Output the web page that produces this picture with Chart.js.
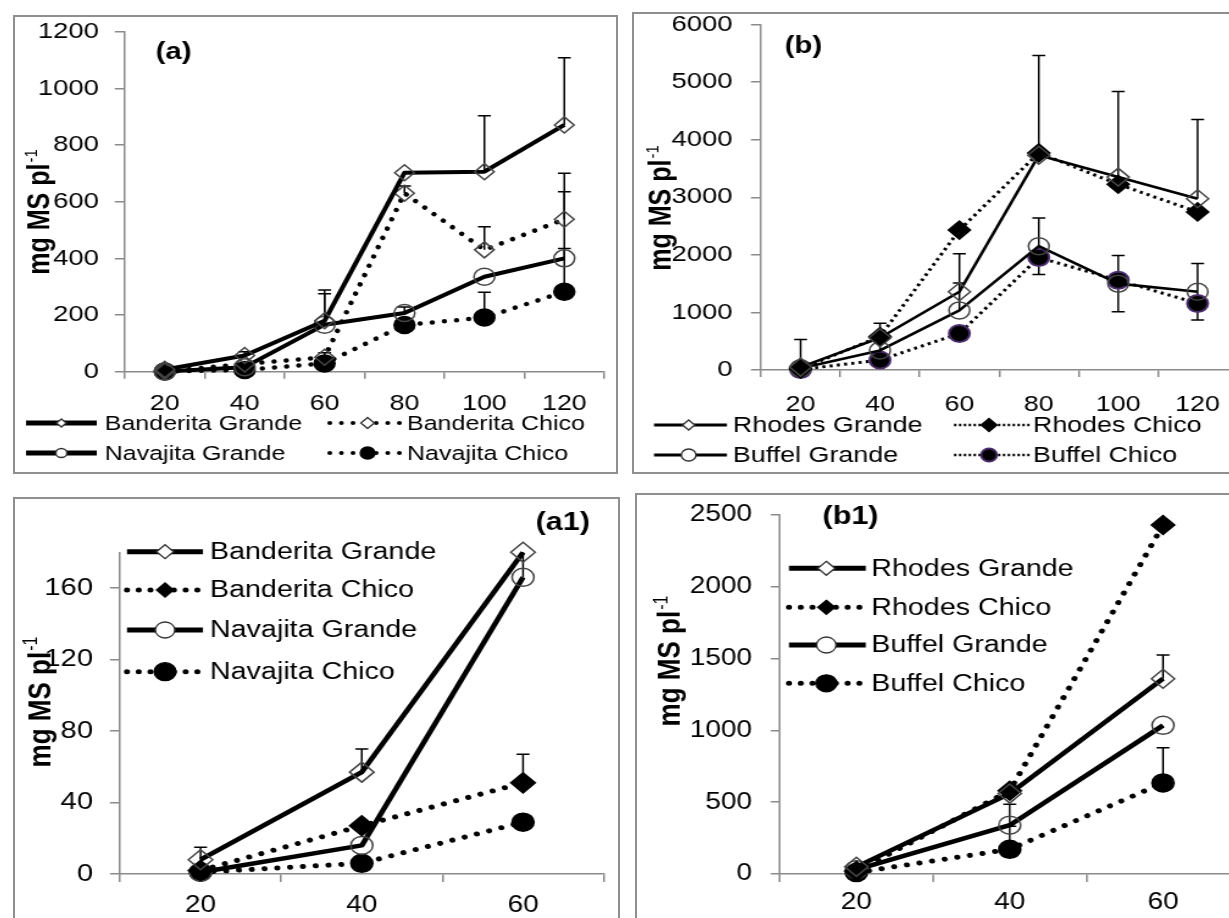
<!DOCTYPE html>
<html>
<head>
<meta charset="utf-8">
<script src="https://cdn.jsdelivr.net/npm/chart.js@4.4.1/dist/chart.umd.min.js"></script>
<style>
  html, body { margin: 0; padding: 0; background: #fff; }
  body { width: 1229px; height: 918px; overflow: hidden; position: relative; }
  .panel { position: absolute; border: 2px solid #8f8f8f; overflow: hidden; background: #fff; }
  .panel canvas { position: absolute; left: 0; top: 0; transform-origin: 0 0; transform: scaleX(1.22); }
</style>
</head>
<body>
<div class="panel" style="left:13px;top:15px;width:601px;height:455px"><canvas id="chartA" width="493" height="455"></canvas></div>
<div class="panel" style="left:632px;top:12px;width:616px;height:458px"><canvas id="chartB" width="505" height="458"></canvas></div>
<div class="panel" style="left:13px;top:497px;width:603px;height:436px"><canvas id="chartA1" width="494" height="436"></canvas></div>
<div class="panel" style="left:635px;top:493px;width:616px;height:436px"><canvas id="chartB1" width="505" height="436"></canvas></div>

<script>
// ---------- categories (days after emergence) ----------
const daysLong  = ['20', '40', '60', '80', '100', '120'];
const daysShort = ['20', '40', '60'];

// ---------- y-axis ranges: [min, max, step] ----------
const yRangeA  = [0, 1200, 200];
const yRangeB  = [0, 6000, 1000];
const yRangeA1 = [0, 180, 40];
const yRangeB1 = [0, 2500, 500];

// ---------- Banderita / Navajita (mg MS per plant) ----------
const banderitaGrande = [8, 57, 180, 702, 706, 871];
const banderitaChico  = [2, 27, 51, 630, 430, 538];
const navajitaGrande  = [1, 16, 166, 207, 335, 400];
const navajitaChico   = [1, 6, 29, 165, 191, 282];

const banderitaGrandeErr = [7, 13, 108, 0, 197, 237];
const banderitaChicoErr  = [0, 0, 16, 25, 82, 162];
const navajitaGrandeErr  = [0, 0, 109, 21, 0, 235];
const navajitaChicoErr   = [0, 0, 0, 0, 89, 153];

// ---------- Rhodes / Buffel (mg MS per plant) ----------
const rhodesGrande = [50, 560, 1360, 3730, 3350, 2975];
const rhodesChico  = [20, 580, 2430, 3770, 3225, 2745];
const buffelGrande = [30, 340, 1035, 2150, 1500, 1360];
const buffelChico  = [10, 172, 634, 1953, 1560, 1156];

const rhodesGrandeErr    = [480, 250, 150, 1730, 1485, 1375];
const buffelGrandeErr    = [0, 146, 985, 490, 490, 490];
const buffelGrandeErrLow = [0, 0, 0, 490, 490, 490];

// ---------- first three harvests ----------
const banderitaGrandeEarly = banderitaGrande.slice(0, 3);
const banderitaChicoEarly  = banderitaChico.slice(0, 3);
const navajitaGrandeEarly  = navajitaGrande.slice(0, 3);
const navajitaChicoEarly   = navajitaChico.slice(0, 3);
const rhodesGrandeEarly    = rhodesGrande.slice(0, 3);
const rhodesChicoEarly     = rhodesChico.slice(0, 3);
const buffelGrandeEarly    = buffelGrande.slice(0, 3);
const buffelChicoEarly     = buffelChico.slice(0, 3);

const banderitaGrandeErrEarly = [7, 13, 0];
const banderitaChicoErrEarly  = [0, 0, 16];
const navajitaGrandeErrEarly  = [0, 0, 109];
const rhodesGrandeErrEarly    = [0, 0, 165];
const buffelGrandeErrEarly    = [0, 146, 0];
const buffelChicoErrEarly     = [0, 160, 245];

// ---------- shared drawing helpers ----------
const FAMILY = "'Liberation Sans', Arial, sans-serif";
const AXIS = '#8a8a8a';
Chart.defaults.font.family = FAMILY;
Chart.defaults.color = '#000';

function drawMarker(ctx, shape, x, y, r, fill, stroke, lw) {
  ctx.beginPath();
  if (shape === 'circle') {
    ctx.arc(x, y, r, 0, Math.PI * 2);
  } else {
    ctx.moveTo(x, y - r); ctx.lineTo(x + r, y); ctx.lineTo(x, y + r); ctx.lineTo(x - r, y); ctx.closePath();
  }
  ctx.fillStyle = fill; ctx.fill();
  ctx.setLineDash([]);
  ctx.lineWidth = lw; ctx.strokeStyle = stroke; ctx.stroke();
}

function drawYTitle(ctx, t) {
  ctx.save();
  ctx.translate(t.x, t.y);
  ctx.rotate(-Math.PI / 2);
  const main = 'mg MS pl', sup = '-1';
  const supSize = Math.round(t.size * 0.6);
  ctx.font = `bold ${t.size}px ${FAMILY}`;
  const w1 = ctx.measureText(main).width;
  ctx.font = `${supSize}px ${FAMILY}`;
  const w2 = ctx.measureText(sup).width;
  const x0 = -(w1 + w2 + 1) / 2;
  const base = t.size * 0.33;
  ctx.fillStyle = '#000';
  ctx.textBaseline = 'alphabetic';
  ctx.textAlign = 'left';
  ctx.font = `bold ${t.size}px ${FAMILY}`;
  ctx.fillText(main, x0, base);
  ctx.font = `${supSize}px ${FAMILY}`;
  ctx.fillText(sup, x0 + w1 + 1, base - t.size * 0.4);
  ctx.restore();
}

function buildPanel(spec) {
  const datasets = spec.series.map(s => ({
    label: s.label,
    data: s.data,
    errUp: s.err || null,
    errLow: s.errLow || null,
    borderColor: '#000',
    borderWidth: s.solid ? spec.solidW : spec.dotW,
    borderDash: s.solid ? [] : spec.dash,
    borderCapStyle: s.solid ? 'butt' : spec.dashCap,
    borderJoinStyle: 'round',
    tension: 0,
    fill: false,
    clip: false,
    pointStyle: s.shape,
    pointRadius: s.shape === 'circle' ? spec.circleR : spec.diamondR,
    pointHoverRadius: 0,
    pointBackgroundColor: s.filled ? '#000' : 'rgba(0,0,0,0)',
    pointBorderColor: s.rim || (s.filled ? '#000' : '#444'),
    pointBorderWidth: s.rim ? 2 : 1.5
  }));

  const errorBars = {
    id: 'errorBars',
    beforeDatasetsDraw(chart) {
      const { ctx, chartArea: ca } = chart;
      const y = chart.scales.y;
      ctx.save();
      ctx.beginPath();
      ctx.rect(ca.left - 20, ca.top, ca.right - ca.left + 40, ca.bottom - ca.top);
      ctx.clip();
      ctx.strokeStyle = '#000';
      ctx.lineWidth = 1.5;
      ctx.setLineDash([]);
      chart.data.datasets.forEach((ds, i) => {
        const meta = chart.getDatasetMeta(i);
        ds.data.forEach((v, j) => {
          const x = meta.data[j].x;
          const parts = [[ds.errUp ? ds.errUp[j] : 0, 1], [ds.errLow ? ds.errLow[j] : 0, -1]];
          parts.forEach(([e, sgn]) => {
            if (!e) return;
            const y0 = y.getPixelForValue(v);
            const y1 = y.getPixelForValue(v + sgn * e);
            ctx.beginPath();
            ctx.moveTo(x, y0); ctx.lineTo(x, y1);
            ctx.moveTo(x - spec.cap, y1); ctx.lineTo(x + spec.cap, y1);
            ctx.stroke();
          });
        });
      });
      ctx.restore();
    }
  };

  const decorations = {
    id: 'decorations',
    afterDraw(chart) {
      const ctx = chart.ctx;
      // panel tag
      ctx.save();
      ctx.font = `bold ${spec.tag.size}px ${FAMILY}`;
      ctx.textAlign = 'center';
      ctx.textBaseline = 'middle';
      ctx.fillStyle = '#000';
      ctx.fillText(spec.tag.text, spec.tag.x, spec.tag.y);
      ctx.restore();
      // y-axis title
      drawYTitle(ctx, spec.yTitle);
      // legend
      const L = spec.legend;
      spec.series.forEach((s, i) => {
        const col = L.cols[L.place[i][0]];
        const yy = L.rows[L.place[i][1]];
        ctx.save();
        ctx.strokeStyle = '#000';
        ctx.lineWidth = s.solid ? L.solidW : L.dotW;
        ctx.setLineDash(s.solid ? [] : L.dash);
        ctx.lineCap = s.solid ? 'butt' : L.cap;
        ctx.beginPath();
        ctx.moveTo(col.x0, yy); ctx.lineTo(col.x1, yy);
        ctx.stroke();
        drawMarker(ctx, s.shape, col.mx, yy, L.radii[i], s.filled ? '#000' : '#fff',
                   s.rim || (s.filled ? '#000' : '#333'), s.rim ? 1.8 : 1.3);
        ctx.font = `${L.font}px ${FAMILY}`;
        ctx.textAlign = 'left';
        ctx.textBaseline = 'middle';
        ctx.fillStyle = '#000';
        ctx.fillText(s.label, col.tx, yy + 1);
        ctx.restore();
      });
    }
  };

  return new Chart(document.getElementById(spec.canvas), {
    type: 'line',
    data: { labels: spec.labels, datasets },
    options: {
      responsive: false,
      animation: false,
      devicePixelRatio: 1,
      events: [],
      layout: { padding: { left: 0, top: spec.padTop, right: spec.padRight, bottom: 0 } },
      plugins: { legend: { display: false }, tooltip: { enabled: false } },
      scales: {
        x: {
          type: 'category',
          offset: true,
          grid: { display: true, offset: true, drawOnChartArea: false, drawTicks: true,
                  tickLength: spec.xTickLen, color: AXIS, lineWidth: 1.5 },
          border: { display: true, color: AXIS, width: 1.5 },
          ticks: { font: { size: spec.xFont }, color: '#000', padding: spec.xTickPad,
                   maxRotation: 0, autoSkip: false },
          afterFit(s) { s.height = spec.xHeight; s.paddingLeft = 0; s.paddingRight = 0; }
        },
        y: {
          type: 'linear',
          min: spec.yRange[0],
          max: spec.yRange[1],
          grid: { drawOnChartArea: false, drawTicks: true, tickLength: spec.yTickLen,
                  color: AXIS, lineWidth: 1.5 },
          border: { display: true, color: AXIS, width: 1.5 },
          ticks: { stepSize: spec.yRange[2], includeBounds: false, font: { size: spec.yFont },
                   color: '#000', padding: spec.yTickPad, callback: v => String(v) },
          afterFit(s) { s.width = spec.yWidth; s.paddingTop = 0; s.paddingBottom = 0; }
        }
      }
    },
    plugins: [errorBars, decorations]
  });
}

// ---------- (a) Banderita / Navajita, full season ----------
buildPanel({
  canvas: 'chartA', labels: daysLong, yRange: yRangeA,
  series: [
    { label: 'Banderita Grande', data: banderitaGrande, err: banderitaGrandeErr, solid: true,  shape: 'rectRot', filled: false },
    { label: 'Banderita Chico',  data: banderitaChico,  err: banderitaChicoErr,  solid: false, shape: 'rectRot', filled: false },
    { label: 'Navajita Grande',  data: navajitaGrande,  err: navajitaGrandeErr,  solid: true,  shape: 'circle',  filled: false },
    { label: 'Navajita Chico',   data: navajitaChico,   err: navajitaChicoErr,   solid: false, shape: 'circle',  filled: true }
  ],
  solidW: 4, dotW: 4.5, dash: [0.01, 10], dashCap: 'round',
  diamondR: 8, circleR: 8.5, cap: 5.3,
  padTop: 14.7, padRight: 0, yWidth: 90, xHeight: 100.3,
  yFont: 22.5, yTickLen: 8.2, yTickPad: 13,
  xFont: 22, xTickLen: 7, xTickPad: 12,
  tag: { text: '(a)', x: 130, y: 35.5, size: 24 },
  yTitle: { x: 19.3, y: 195, size: 25 },
  legend: {
    cols: [{ x0: 9, x1: 67, mx: 38, tx: 73.5 }, { x0: 258, x1: 318, mx: 289, tx: 321.3 }],
    rows: [406, 436],
    place: [[0, 0], [1, 0], [0, 1], [1, 1]],
    radii: [4, 5.5, 4.5, 6],
    font: 20.5, solidW: 5, dotW: 4, dash: [0.01, 9.5], cap: 'round'
  }
});

// ---------- (b) Rhodes / Buffel, full season ----------
buildPanel({
  canvas: 'chartB', labels: daysLong, yRange: yRangeB,
  series: [
    { label: 'Rhodes Grande', data: rhodesGrande, err: rhodesGrandeErr, solid: true,  shape: 'rectRot', filled: false },
    { label: 'Rhodes Chico',  data: rhodesChico,  solid: false, shape: 'rectRot', filled: true },
    { label: 'Buffel Grande', data: buffelGrande, err: buffelGrandeErr, errLow: buffelGrandeErrLow, solid: true, shape: 'circle', filled: false },
    { label: 'Buffel Chico',  data: buffelChico,  solid: false, shape: 'circle', filled: true, rim: '#4b2d6e' }
  ],
  solidW: 2.6, dotW: 3, dash: [2.5, 3.5], dashCap: 'butt',
  diamondR: 9, circleR: 8.5, cap: 5.3,
  padTop: 10, padRight: 6.7, yWidth: 104, xHeight: 102,
  yFont: 22.5, yTickLen: 8.2, yTickPad: 15,
  xFont: 22, xTickLen: 7, xTickPad: 15,
  tag: { text: '(b)', x: 138.8, y: 32.7, size: 24 },
  yTitle: { x: 22.1, y: 194, size: 25 },
  legend: {
    cols: [{ x0: 16.4, x1: 76.2, mx: 44.8, tx: 81.1 }, { x0: 262.3, x1: 324.2, mx: 291, tx: 327 }],
    rows: [411, 441],
    place: [[0, 0], [1, 0], [0, 1], [1, 1]],
    radii: [5, 6.5, 6, 6.5],
    font: 22, solidW: 3, dotW: 2.5, dash: [2, 2], cap: 'butt'
  }
});

// ---------- (a1) Banderita / Navajita, first harvests ----------
buildPanel({
  canvas: 'chartA1', labels: daysShort, yRange: yRangeA1,
  series: [
    { label: 'Banderita Grande', data: banderitaGrandeEarly, err: banderitaGrandeErrEarly, solid: true,  shape: 'rectRot', filled: false },
    { label: 'Banderita Chico',  data: banderitaChicoEarly,  err: banderitaChicoErrEarly,  solid: false, shape: 'rectRot', filled: true },
    { label: 'Navajita Grande',  data: navajitaGrandeEarly,  err: navajitaGrandeErrEarly,  solid: true,  shape: 'circle',  filled: false },
    { label: 'Navajita Chico',   data: navajitaChicoEarly,   solid: false, shape: 'circle', filled: true }
  ],
  solidW: 4.5, dotW: 5, dash: [0.01, 10.5], dashCap: 'round',
  diamondR: 10, circleR: 9, cap: 5.3,
  padTop: 53.3, padRight: 1.4, yWidth: 86, xHeight: 61,
  yFont: 24, yTickLen: 8.2, yTickPad: 13.8,
  xFont: 23, xTickLen: 8, xTickPad: 10,
  tag: { text: '(a1)', x: 449, y: 24, size: 25 },
  yTitle: { x: 20, y: 203, size: 26 },
  legend: {
    cols: [{ x0: 91.8, x1: 154.1, mx: 123, tx: 159.8 }],
    rows: [52.7, 91, 131, 172.7],
    place: [[0, 0], [0, 1], [0, 2], [0, 3]],
    radii: [7, 7, 8, 9],
    font: 23.5, solidW: 5, dotW: 5, dash: [0.01, 9.6], cap: 'round'
  }
});

// ---------- (b1) Rhodes / Buffel, first harvests ----------
buildPanel({
  canvas: 'chartB1', labels: daysShort, yRange: yRangeB1,
  series: [
    { label: 'Rhodes Grande', data: rhodesGrandeEarly, err: rhodesGrandeErrEarly, solid: true,  shape: 'rectRot', filled: false },
    { label: 'Rhodes Chico',  data: rhodesChicoEarly,  solid: false, shape: 'rectRot', filled: true },
    { label: 'Buffel Grande', data: buffelGrandeEarly, err: buffelGrandeErrEarly, solid: true,  shape: 'circle', filled: false },
    { label: 'Buffel Chico',  data: buffelChicoEarly,  err: buffelChicoErrEarly,  solid: false, shape: 'circle', filled: true }
  ],
  solidW: 4.5, dotW: 5, dash: [0.01, 10.5], dashCap: 'round',
  diamondR: 9.5, circleR: 9, cap: 5.3,
  padTop: 20, padRight: 8.6, yWidth: 117, xHeight: 57,
  yFont: 23, yTickLen: 7.4, yTickPad: 15.3,
  xFont: 23, xTickLen: 8, xTickPad: 7.2,
  tag: { text: '(b1)', x: 175, y: 21.7, size: 25 },
  yTitle: { x: 26.6, y: 166, size: 26 },
  legend: {
    cols: [{ x0: 124.6, x1: 187.5, mx: 155.2, tx: 192 }],
    rows: [73.3, 112.3, 150, 188.3],
    place: [[0, 0], [0, 1], [0, 2], [0, 3]],
    radii: [7, 7, 8, 8.5],
    font: 23.5, solidW: 5, dotW: 5, dash: [0.01, 9.6], cap: 'round'
  }
});
</script>
</body>
</html>
